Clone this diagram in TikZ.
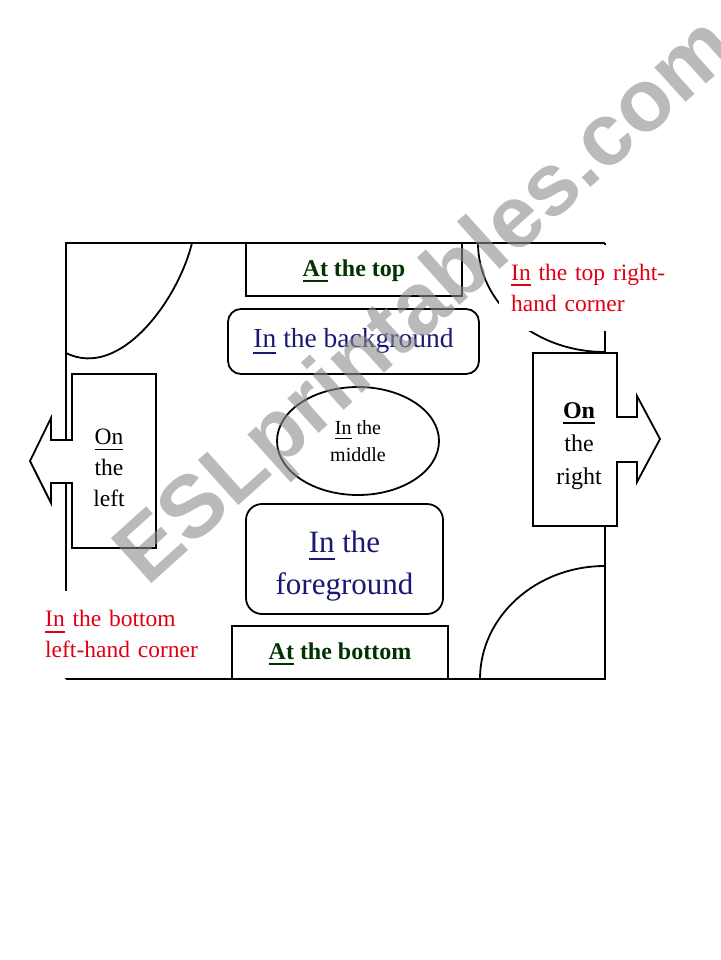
\documentclass[tikz,border=0pt]{standalone}
\usepackage{fontspec}
\setmainfont{Liberation Serif}
\newfontfamily\wmfont{Liberation Sans}
\definecolor{topgreen}{rgb}{0.0, 0.2, 0.0}
\definecolor{bgnavy}{rgb}{0.1, 0.1, 0.45}
\definecolor{cornerred}{rgb}{0.88, 0.0, 0.08}
\definecolor{wmgray}{rgb}{0.55, 0.55, 0.55}
\usepackage{tikz}
\usetikzlibrary{shapes, shapes.geometric, backgrounds, calc}

% thicker underline, as in the slide
\newcommand{\undl}[1]{\setbox0\hbox{#1}\rlap{\rule[-0.24em]{\wd0}{0.075em}}\box0\relax}

\tikzset{
    wall/.style = {line width = 1.8pt},
    plainbox/.style = {draw, line width = 1.8pt, fill = white, rectangle},
    softbox/.style = {plainbox, rounded corners = 13pt},
    cornertext/.style = {fill = white, text = cornerred, align = left, anchor = north west, font = \fontsize{23.5}{31}\selectfont},
}

\begin{document}
\begin{tikzpicture}[x = 1pt, y = -1pt]
        \useasboundingbox (0,0) rectangle (720,960);

        % walls and doors
        \draw [wall] (66,679) -- (66,243) -- (605,243);
        \draw [wall] (605,243) -- (605,679) -- (66,679);
        \draw [wall] (192,243) .. controls (178,300) and (120,380) .. (66,353);
        \draw [wall] (478,243) arc [start angle = 180, end angle = 90, x radius = 127, y radius = 109];
        \draw [wall] (480,679) arc [start angle = 180, end angle = 270, x radius = 125, y radius = 113];

        % places in the room
        \node (topbox) [plainbox, minimum width = 216, minimum height = 53, text = topgreen, font = \fontsize{24}{29}\selectfont\bfseries, text height = 19] at (354,269.5) {\undl{At} the top};
        \node (bgbox) [softbox, minimum width = 251, minimum height = 65, text = bgnavy, font = \fontsize{27.5}{33}\selectfont] at (353.5,341.5) {\undl{In} the background};
        \node (midoval) [ellipse, draw, line width = 1.8pt, fill = white, minimum width = 162, minimum height = 108, align = center, font = \fontsize{20}{27}\selectfont] at (358,441) {\undl{In} the\\middle};
        \node (fgbox) [softbox, rounded corners = 16pt, minimum width = 197, minimum height = 110, align = center, text = bgnavy, font = \fontsize{31}{42}\selectfont] at (344.5,559) {\rule{0pt}{36pt}\undl{In} the\\foreground};
        \node (botbox) [plainbox, minimum width = 216, minimum height = 53, text = topgreen, font = \fontsize{24}{29}\selectfont\bfseries, text height = 19] at (340,652.5) {\undl{At} the bottom};

        % side arrows
        \draw [plainbox] (156,374) -- (72,374) -- (72,440) -- (51,440) -- (51,418) -- (30,461) -- (51,503) -- (51,483) -- (72,483) -- (72,548) -- (156,548) -- cycle;
        \draw [plainbox] (533,353) -- (617,353) -- (617,417) -- (637,417) -- (637,396) -- (660,439) -- (637,482) -- (637,462) -- (617,462) -- (617,526) -- (533,526) -- cycle;
        \node (lefttext) [align = center, font = \fontsize{23.5}{31}\selectfont] at (109,468) {\undl{On}\\the\\left};
        \node (righttext) [align = center, font = \fontsize{24}{33}\selectfont] at (579,446) {\undl{\textbf{On}}\\the\\right};

        % corners
        \node (toprighttext) [cornertext, minimum height = 85.5, inner xsep = 12, text width = 160] at (499,244.8) {\undl{In} the top right-\\hand corner};
        \node (bottomlefttext) [cornertext, minimum height = 86.5, inner xsep = 9, text width = 160] at (36,591) {\undl{In} the bottom\\left-hand corner};

        \node (watermark) [rotate = 42, text = wmgray, opacity = 0.6, font = \wmfont\bfseries\fontsize{88}{88}\selectfont] at (428,304) {ESLprintables.com};
\end{tikzpicture}
\end{document}
